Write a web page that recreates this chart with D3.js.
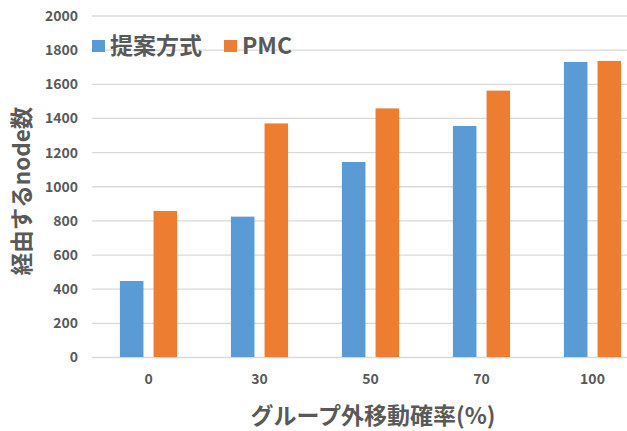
<!DOCTYPE html>
<html>
<head>
<meta charset="utf-8">
<script src="https://cdn.jsdelivr.net/npm/d3@7"></script>
<style>
  html, body { margin: 0; padding: 0; background: #fff; }
  svg text { font-family: "Noto Sans CJK JP", "Noto Sans", sans-serif; font-weight: bold; fill: #595959; }
</style>
</head>
<body>
<svg id="chart" width="627" height="431"></svg>
<script>
// Movement probability outside the group (%)
const categories = ["0", "30", "50", "70", "100"];
// Number of nodes traversed
const proposed = [445, 822, 1142, 1353, 1728];
const pmc = [855, 1368, 1456, 1560, 1734];
const seriesNames = ["提案方式", "PMC"];
const yTicks = [0, 200, 400, 600, 800, 1000, 1200, 1400, 1600, 1800, 2000];
const colors = ["#5B9BD5", "#ED7D31"];

const svg = d3.select("#chart");
const W = 627, H = 431;

const x0 = d3.scaleBand().domain(categories).range([93, 648]).paddingInner(0).paddingOuter(0);
const x1 = d3.scaleBand().domain([0, 1]).range([0, x0.bandwidth()]).paddingInner(0.3).paddingOuter(0.8);
const y = d3.scaleLinear().domain([0, 2000]).range([357, 15.5]);

// Gridlines
const grid = svg.append("g")
  .attr("transform", "translate(92,0)")
  .call(d3.axisLeft(y).tickValues(yTicks).tickSize(-(W - 92)).tickFormat(""));
grid.select(".domain").remove();
grid.selectAll("line").attr("stroke", "#D9D9D9").attr("stroke-width", 1.3);

// Y tick labels
const yAxis = svg.append("g")
  .attr("transform", "translate(92,0)")
  .call(d3.axisLeft(y).tickValues(yTicks).tickFormat(d3.format("d")).tickSize(0).tickPadding(14));
yAxis.select(".domain").remove();
yAxis.selectAll("text").style("font-size", "14px").attr("dy", "0.35em");

// Bars
const data = categories.map((c, i) => ({ c, vals: [proposed[i], pmc[i]] }));
const groups = svg.append("g").selectAll("g").data(data).join("g")
  .attr("transform", d => `translate(${x0(d.c)},0)`);
groups.selectAll("rect").data(d => d.vals.map((v, k) => ({ v, k }))).join("rect")
  .attr("x", d => x1(d.k))
  .attr("width", x1.bandwidth())
  .attr("y", d => y(d.v))
  .attr("height", d => y(0) - y(d.v))
  .attr("fill", d => colors[d.k]);

// X tick labels
const xAxis = svg.append("g")
  .attr("transform", `translate(0,${y(0)})`)
  .call(d3.axisBottom(x0).tickSize(0).tickPadding(17));
xAxis.select(".domain").remove();
xAxis.selectAll("text").style("font-size", "14px");

// Axis titles
svg.append("text")
  .attr("x", 373).attr("y", 424)
  .attr("text-anchor", "middle")
  .style("font-size", "23px")
  .text("グループ外移動確率(%)");

svg.append("text")
  .attr("transform", "translate(30,191) rotate(-90)")
  .attr("text-anchor", "middle")
  .style("font-size", "22.5px")
  .text("経由するnode数");

// Legend
const legend = svg.append("g");
const legendItems = [
  { name: seriesNames[0], color: colors[0], x: 92 },
  { name: seriesNames[1], color: colors[1], x: 224 }
];
legendItems.forEach(it => {
  legend.append("rect").attr("x", it.x).attr("y", 40).attr("width", 13).attr("height", 12).attr("fill", it.color);
  legend.append("text").attr("x", it.x + 18).attr("y", 54).style("font-size", "23px").text(it.name);
});
</script>
</body>
</html>
